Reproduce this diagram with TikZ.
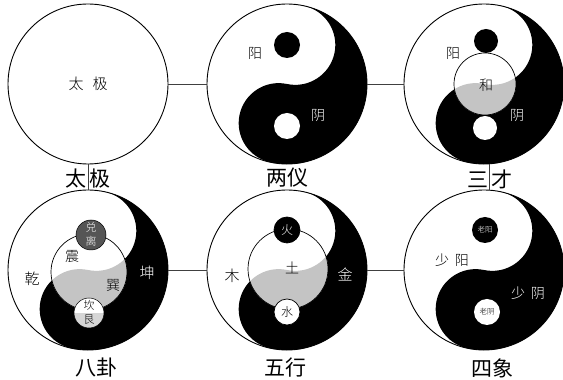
\documentclass[tikz,border=0pt]{standalone}
\usepackage{fontspec}
\newfontfamily\cjk{Noto Sans CJK SC Light}
\newfontfamily\cjkreg{Noto Sans CJK SC}
\definecolor{innergray}{HTML}{C4C4C4}
\definecolor{darkdot}{HTML}{555555}
\definecolor{lightdot}{HTML}{D6D6D6}
\definecolor{connc}{HTML}{404040}
% black half of a tilted yin-yang: #1 centre, #2 fill colour
\newcommand\yyblack[2]{%
  \begin{scope}[shift={(#1)},rotate=-12]
    \fill[#2] (0,80) arc[start angle=90,end angle=-90,radius=80]
      arc[start angle=-90,end angle=-270,radius=40]
      arc[start angle=-90,end angle=90,radius=40] -- cycle;
  \end{scope}}
% inner circle showing the yin-yang in grey: #1 yin-yang centre, #2 inner centre, #3 radius
\newcommand\yyinner[3]{%
  \begin{scope}
    \clip (#2) circle[radius=#3];
    \fill[white] (#2) circle[radius=#3];
    \yyblack{#1}{innergray}
  \end{scope}
  \draw[line width=0.7pt] (#2) circle[radius=#3];}
\begin{document}
\begin{tikzpicture}[x=1pt,y=1pt,
  outer/.style={circle,draw=black,line width=0.9pt,minimum size=160pt,inner sep=0pt},
  conn/.style={draw=connc,line width=0.8pt},
  title/.style={font=\cjkreg\fontsize{21}{21}\selectfont,inner sep=0pt},
  lbl/.style={font=\cjk\fontsize{14}{14}\selectfont,inner sep=0pt},
  small/.style={font=\cjk\fontsize{11}{11}\selectfont,inner sep=0pt},
  tiny/.style={font=\cjk\fontsize{7.5}{7.5}\selectfont,inner sep=0pt}
]
\useasboundingbox (0,0) rectangle (563,380);
\fill[white] (0,0) rectangle (563,380);

% ---------- 两仪 ----------
\yyblack{287,296}{black}
\fill[black] (287,335) circle[radius=13];
\fill[white] (287,254) circle[radius=13];

% ---------- 三才 ----------
\yyblack{484,296}{black}
\yyinner{484,296}{485,296}{31}
\fill[black] (486,339) circle[radius=12];
\fill[white] (485,252) circle[radius=12];

% ---------- 八卦 ----------
\yyblack{88,110}{black}
\yyinner{88,110}{89,108}{38}
\draw[line width=0.5pt,fill=darkdot] (91,145) circle[radius=15];
\begin{scope}
  \clip (89,67) circle[radius=15];
  \fill[white] (74,67) rectangle (104,82);
  \fill[lightdot] (74,52) rectangle (104,67);
\end{scope}
\draw[line width=0.5pt] (89,67) circle[radius=15];

% ---------- 五行 ----------
\yyblack{287,110}{black}
\yyinner{287,110}{288,111}{40}
\draw[line width=0.7pt,fill=black] (287,150) circle[radius=13];
\draw[line width=0.7pt,fill=white] (287,68) circle[radius=13];

% ---------- 四象 ----------
\yyblack{484,110}{black}
\fill[black] (485,150) circle[radius=13];
\fill[white] (487,68) circle[radius=13];

% ---------- outer circles ----------
\node[outer] (taiji) at (88,296) {};
\node[outer] (liangyi) at (287,296) {};
\node[outer] (sancai) at (484,296) {};
\node[outer] (bagua) at (88,110) {};
\node[outer] (wuxing) at (287,110) {};
\node[outer] (sixiang) at (484,110) {};

% ---------- connectors ----------
\draw[conn] (taiji.east) -- (liangyi.west);
\draw[conn] (liangyi.east) -- (sancai.west);
\draw[conn] (sancai.-86) -- (sixiang.86);
\draw[conn] (sixiang.west) -- (wuxing.east);
\draw[conn] (wuxing.west) -- (bagua.east);
\draw[conn] (taiji.south) -- (bagua.north);

% ---------- texts ----------
\node[font=\cjk\fontsize{15}{15}\selectfont,inner sep=0pt] (tjin) at (88,296) {太\hspace{9pt}极};

\node[lbl] (ly1) at (255,327) {阳};
\node[lbl,text=white] (ly2) at (318,265) {阴};

\node[lbl] (sc1) at (453,327) {阳};
\node[lbl,text=white] (sc2) at (517,265) {阴};
\node[lbl] (sc3) at (486,295) {和};

\node[lbl,font=\cjk\fontsize{15}{15}\selectfont] (bg1) at (32,101) {乾};
\node[lbl,font=\cjk\fontsize{15}{15}\selectfont,text=white] (bg2) at (147,107) {坤};
\node[lbl] (bg3) at (72,123) {震};
\node[lbl] (bg4) at (113,95) {巽};
\node[small,text=white] (bg5) at (91,152.5) {兑};
\node[small,text=white] (bg6) at (91,138.5) {离};
\node[small] (bg7) at (89,74.5) {坎};
\node[small] (bg8) at (89,60.5) {艮};

\node[small,font=\cjk\fontsize{12}{12}\selectfont,text=white] (wx1) at (287,150) {火};
\node[small,font=\cjk\fontsize{12}{12}\selectfont] (wx2) at (287,68) {水};
\node[lbl] (wx3) at (292,112) {土};
\node[lbl,font=\cjk\fontsize{15}{15}\selectfont] (wx4) at (232,104) {木};
\node[lbl,font=\cjk\fontsize{15}{15}\selectfont,text=white] (wx5) at (345,106) {金};

\node[tiny,text=white] (sx1) at (485,150) {老阳};
\node[tiny] (sx2) at (487,68) {老阴};
\node[lbl] (sx3) at (452,120) {少\hspace{6pt}阳};
\node[lbl,text=white] (sx4) at (528,87) {少\hspace{6pt}阴};

\node[title] (t1) at (88,201) {太\hspace{3pt}极};
\node[title] (t2) at (287,202) {两仪};
\node[title] (t3) at (490,201) {三\hspace{3pt}才};
\node[title] (t4) at (96,12) {八卦};
\node[title] (t5) at (285,12) {五行};
\node[title] (t6) at (492,12) {四象};
\end{tikzpicture}
\end{document}
